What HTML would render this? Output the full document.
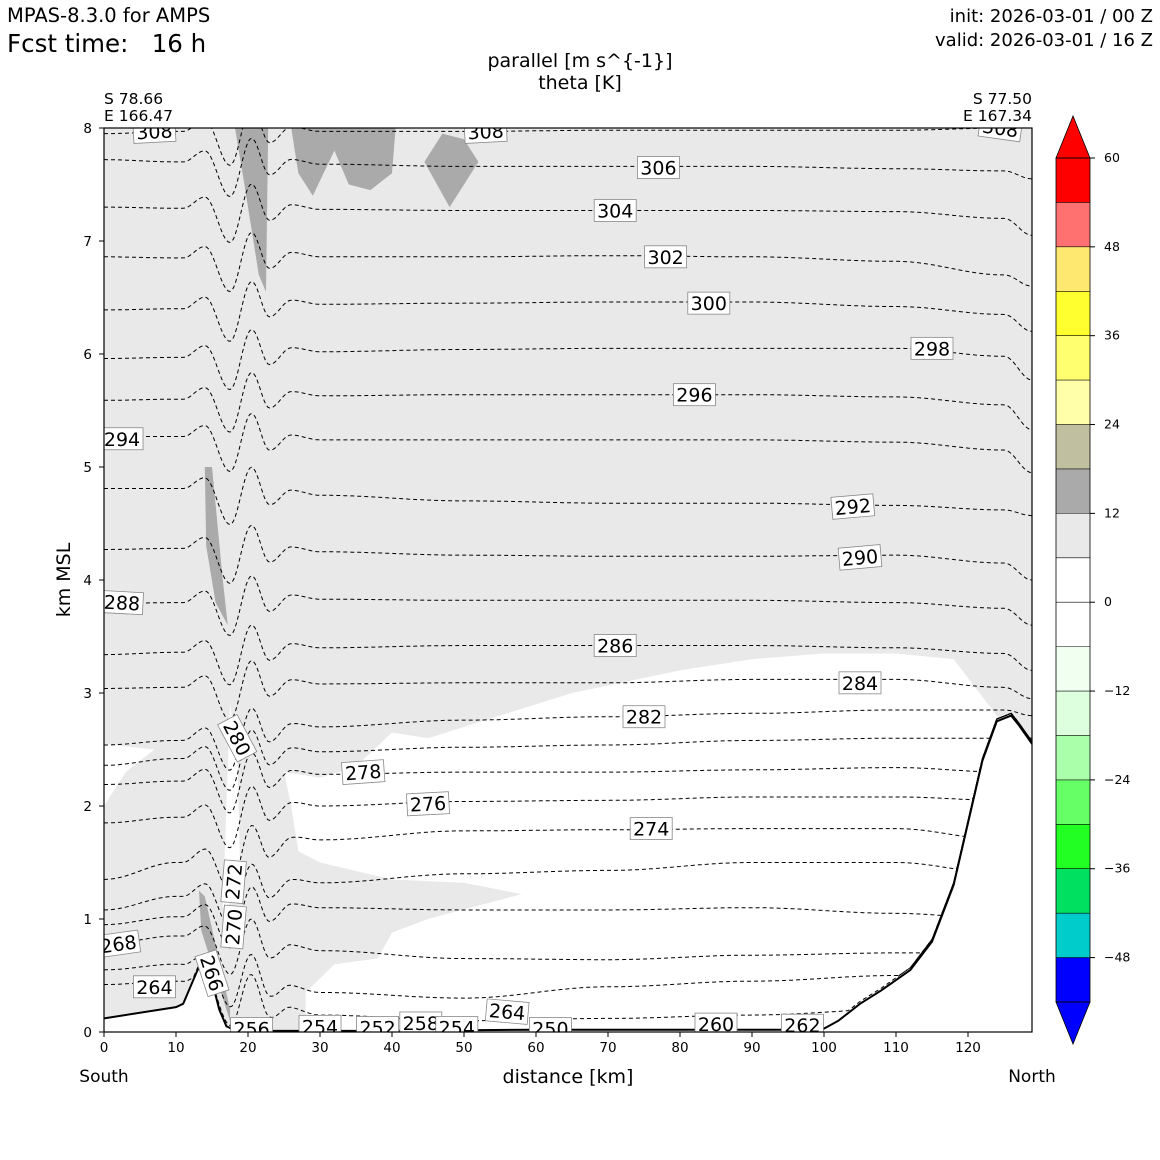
<!DOCTYPE html>
<html><head><meta charset="utf-8">
<style>
html,body{margin:0;padding:0;background:#fff;}
svg{display:block;font-family:"DejaVu Sans","Liberation Sans",sans-serif;}
</style></head>
<body>
<svg id="chart" width="1160" height="1160" viewBox="0 0 1160 1160" xmlns="http://www.w3.org/2000/svg">
<text x="7" y="22" font-size="19.5">MPAS-8.3.0 for AMPS</text>
<text x="7" y="52" font-size="24.5" xml:space="preserve">Fcst time:   16 h</text>
<text x="1153" y="22" font-size="18" text-anchor="end">init: 2026-03-01 / 00 Z</text>
<text x="1153" y="46" font-size="18" text-anchor="end">valid: 2026-03-01 / 16 Z</text>
<text x="580" y="67" font-size="19" text-anchor="middle">parallel [m s^{-1}]</text>
<text x="580" y="89" font-size="19" text-anchor="middle">theta [K]</text>
<text x="104" y="104" font-size="15.5">S 78.66</text>
<text x="104" y="121" font-size="15.5">E 166.47</text>
<text x="1032" y="104" font-size="15.5" text-anchor="end">S 77.50</text>
<text x="1032" y="121" font-size="15.5" text-anchor="end">E 167.34</text>
<defs><clipPath id="plotclip"><rect x="104" y="128" width="928" height="904"/></clipPath></defs>
<g id="plot" clip-path="url(#plotclip)"></g>
<rect x="104" y="128" width="928" height="904" fill="none" stroke="#000" stroke-width="1.2"/>
<g id="axes"></g>
<text transform="translate(70,580) rotate(-90)" font-size="19" text-anchor="middle">km MSL</text>
<text x="568" y="1083" font-size="19" text-anchor="middle">distance [km]</text>
<text x="104" y="1082" font-size="17" text-anchor="middle">South</text>
<text x="1032" y="1082" font-size="17" text-anchor="middle">North</text>
<g id="colorbar"></g>
</svg>
<script>
const NS='http://www.w3.org/2000/svg';
// ---- data ----
const levels=[308,306,304,302,300,298,296,294,292,290,288,286,284,282,280,278,276,274,272,270,268,266,264];
const sampleX=[0,10,30,50,70,90,110,125,128.9];
const levelHeights=[
[7.95,7.97,7.97,7.97,7.98,7.98,7.98,8.0,8.0],
[7.72,7.70,7.68,7.66,7.66,7.66,7.64,7.62,7.55],
[7.30,7.29,7.28,7.27,7.27,7.27,7.26,7.20,7.05],
[6.86,6.85,6.86,6.86,6.87,6.86,6.82,6.70,6.60],
[6.39,6.40,6.44,6.45,6.46,6.46,6.42,6.35,6.20],
[5.96,5.97,6.02,6.04,6.05,6.05,6.05,5.98,5.77],
[5.59,5.60,5.63,5.64,5.64,5.64,5.62,5.55,5.33],
[5.27,5.27,5.24,5.24,5.24,5.24,5.22,5.15,4.95],
[4.81,4.81,4.75,4.70,4.68,4.68,4.66,4.62,4.57],
[4.27,4.28,4.25,4.22,4.21,4.21,4.22,4.15,4.00],
[3.79,3.80,3.83,3.82,3.82,3.82,3.80,3.75,3.60],
[3.34,3.36,3.40,3.42,3.42,3.42,3.40,3.35,3.20],
[3.04,3.05,3.08,3.09,3.09,3.12,3.12,3.05,2.95],
[2.54,2.58,2.70,2.76,2.79,2.82,2.85,2.85,2.80],
[2.36,2.42,2.48,2.52,2.54,2.58,2.60,2.60,2.60],
[2.19,2.22,2.28,2.30,2.30,2.32,2.34,2.30,2.30],
[1.85,1.90,2.00,2.04,2.05,2.08,2.08,2.05,2.05],
[1.35,1.50,1.70,1.78,1.79,1.80,1.80,1.70,1.70],
[1.08,1.20,1.32,1.40,1.43,1.50,1.50,1.40,1.40],
[0.95,1.02,1.10,1.08,1.08,1.10,1.05,1.00,1.00],
[0.78,0.85,0.72,0.65,0.64,0.68,0.70,0.70,0.70],
[0.55,0.60,0.35,0.30,0.40,0.45,0.50,0.50,0.50],
[0.42,0.45,0.15,0.10,0.12,0.15,0.20,0.20,0.20]];
const waveX=[11,14,17.5,20.5,23,26,30];
const waveAmp=[0,0.1,-0.3,0.22,-0.1,0.04,0];
const terrainX=[0,10,11,13,14,15,16,17,18,20,40,60,80,95,100,102,105,108,112,115,118,120,122,124,126,127,128.9];
const terrainH=[0.12,0.22,0.25,0.55,0.62,0.45,0.2,0.05,0.02,0.01,0.01,0.02,0.02,0.02,0.03,0.1,0.25,0.37,0.55,0.8,1.3,1.85,2.4,2.75,2.8,2.72,2.55];
const whiteRegion=[[25,2.3],[30,2.25],[35,2.35],[40,2.65],[45,2.6],[55,2.8],[65,3.0],[80,3.2],[90,3.3],[100,3.35],[110,3.35],[118,3.3],[124,2.8],[124,0],[28,0],[28,0.35],[32,0.6],[38,0.65],[40,0.88],[45,1.0],[58,1.22],[50,1.32],[40,1.35],[30,1.5],[27,1.6],[26,2.0]];
const whiteStrip=[[16.5,1.1],[17.5,2.9],[18.5,2.5],[19,1.2]];
const whitePocket=[[0,2.0],[3,2.3],[7,2.5],[0,2.55]];
const darkPatches=[
[[18.2,8],[22.8,8],[22.5,6.55],[21.5,6.7],[19.5,7.5]],
[[26,8],[40.5,8],[40,7.6],[37,7.45],[34,7.5],[32,7.8],[29,7.4],[27,7.6]],
[[44.5,7.7],[47,7.95],[50,7.9],[52,7.7],[48,7.3]],
[[14,5.0],[15,5.0],[16.5,4.0],[17.2,3.6],[15.5,3.8],[14.2,4.3]],
[[13.2,1.25],[14,1.2],[17.5,0.2],[17.5,0.1],[15.5,0.5],[13.5,0.9]]];
const labelText=[308,308,308,306,304,302,300,298,296,294,292,290,288,286,284,282,280,278,276,274,272,270,268,266,264,264,262,260,258,256,254,252,254,250];
const labelX=[7,53,124.5,77,71,78,84,115,82,2.5,104,105,2.5,71,105,75,18.5,36,45,76,18,18,2,15,7,56,97,85,44,20.5,30,38,49,62];
const labelY=[7.97,7.97,8.0,7.65,7.27,6.86,6.45,6.05,5.64,5.25,4.65,4.2,3.8,3.42,3.09,2.79,2.6,2.3,2.02,1.8,1.33,0.93,0.78,0.52,0.4,0.18,0.06,0.07,0.08,0.03,0.05,0.04,0.04,0.03];
const labelRot=[-3,-3,8,0,0,0,0,0,0,0,-5,-5,3,0,0,0,62,-4,-3,0,-85,-85,-8,72,0,5,0,0,0,0,0,0,0,0];
const cbBounds=[60,54,48,42,36,30,24,18,12,6,0,-6,-12,-18,-24,-30,-36,-42,-48,-54];
const cbColors=['#ff0000','#ff7070','#ffe870','#ffff30','#ffff70','#ffffaa','#c0c0a0','#aaaaaa','#e9e9e9','#ffffff','#ffffff','#f0fff0','#ddffdd','#aaffaa','#66ff66','#22ff22','#00e060','#00cccc','#0000ff'];
const cbTicks=[60,48,36,24,12,0,-12,-24,-36,-48];
const xTicks=[0,10,20,30,40,50,60,70,80,90,100,110,120];
const yTicks=[0,1,2,3,4,5,6,7,8];
// ---- scales ----
const X=k=>104+k*7.2, Y=h=>1032-h*113;
function interp(xs,ys,x){if(x<=xs[0])return ys[0];for(let i=1;i<xs.length;i++){if(x<=xs[i]){const t=(x-xs[i-1])/(xs[i]-xs[i-1]);return ys[i-1]+t*(ys[i]-ys[i-1]);}}return ys[ys.length-1];}
function cinterp(xs,ys,x){if(x<=xs[0])return ys[0];for(let i=1;i<xs.length;i++){if(x<=xs[i]){let t=(x-xs[i-1])/(xs[i]-xs[i-1]);t=(1-Math.cos(Math.PI*t))/2;return ys[i-1]+t*(ys[i]-ys[i-1]);}}return ys[ys.length-1];}
const plot=document.getElementById('plot'),axes=document.getElementById('axes'),cb=document.getElementById('colorbar');
function mk(tag,attrs,parent){const e=document.createElementNS(NS,tag);for(const k in attrs)e.setAttribute(k,attrs[k]);parent.appendChild(e);return e;}
function poly(pts){return pts.map(p=>X(p[0]).toFixed(1)+','+Y(p[1]).toFixed(1)).join(' ');}
let bg=mk('rect',{x:104,y:128,width:928,height:904,fill:'#e9e9e9'},plot);


[whiteRegion,whiteStrip,whitePocket].forEach((r,i)=>{const p=mk('polygon',{points:poly(r),fill:'#fff'},plot);

});
darkPatches.forEach((r,i)=>{const p=mk('polygon',{points:poly(r),fill:'#aaaaaa'},plot);

});
levels.forEach((lv,i)=>{let pts=[];for(let k=0;k<=129;k+=0.25){let h=cinterp(sampleX,levelHeights[i],k)+cinterp(waveX,waveAmp,k);const th=interp(terrainX,terrainH,k);if(h<th+0.02)h=th+0.02;pts.push(X(k).toFixed(1)+','+Y(h).toFixed(1));}
const pl=mk('polyline',{points:pts.join(' '),fill:'none',stroke:'#000','stroke-width':1,'stroke-dasharray':'4,3'},plot);

});
let tp=terrainX.map((k,i)=>[k,terrainH[i]]);
const tf=mk('polygon',{points:poly([...tp,[128.9,0],[0,0]]),fill:'#fff'},plot);


const tl=mk('polyline',{points:poly(tp),fill:'none',stroke:'#000','stroke-width':2},plot);


labelText.forEach((t,i)=>{const g=mk('g',{transform:`translate(${X(labelX[i])},${Y(labelY[i])}) rotate(${labelRot[i]})`},plot);


mk('rect',{x:-21,y:-11,width:42,height:22,fill:'#fff',stroke:'#888','stroke-width':0.8},g);
const tx=mk('text',{x:0,y:7,'font-size':19,'text-anchor':'middle'},g);tx.textContent=t;});
xTicks.forEach(v=>{const l=mk('line',{x1:X(v),x2:X(v),y1:1032,y2:1037,stroke:'#000'},axes);


const t=mk('text',{x:X(v),y:1052,'font-size':13.5,'text-anchor':'middle'},axes);t.textContent=v;

});
yTicks.forEach(v=>{const l=mk('line',{x1:99,x2:104,y1:Y(v),y2:Y(v),stroke:'#000'},axes);


const t=mk('text',{x:92,y:Y(v)+5,'font-size':13.5,'text-anchor':'end'},axes);t.textContent=v;

});
const CY=v=>158+(60-v)*(844/114);
cbColors.forEach((c,i)=>{const r=mk('rect',{x:1056,y:CY(cbBounds[i]),width:34,height:CY(cbBounds[i+1])-CY(cbBounds[i]),fill:c},cb);


mk('line',{x1:1056,x2:1090,y1:CY(cbBounds[i]),y2:CY(cbBounds[i]),stroke:'#000','stroke-width':0.6},cb);});
let up=mk('polygon',{points:'1056,158 1073,116 1090,158',fill:'#ff0000',stroke:'#000','stroke-width':0.8},cb);


let dn=mk('polygon',{points:'1056,1002 1073,1044 1090,1002',fill:'#0000ff',stroke:'#000','stroke-width':0.8},cb);


mk('rect',{x:1056,y:158,width:34,height:844,fill:'none',stroke:'#000','stroke-width':0.8},cb);
cbTicks.forEach(v=>{mk('line',{x1:1090,x2:1095,y1:CY(v),y2:CY(v),stroke:'#000'},cb);
const t=mk('text',{x:1104,y:CY(v)+4,'font-size':12.5},cb);t.textContent=v<0?'\u2212'+(-v):v;

});
</script>
</body></html>
